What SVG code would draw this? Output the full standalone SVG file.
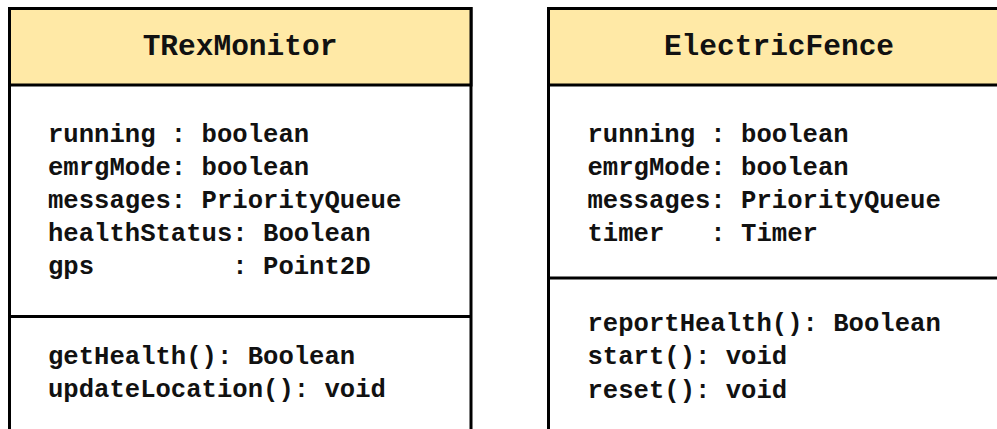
<svg xmlns="http://www.w3.org/2000/svg" width="997" height="429" viewBox="0 0 997 429">
<style>
.box{fill:#ffffff;stroke:#000000;stroke-width:3}
.hdr{fill:#ffe9a6;stroke:#000000;stroke-width:3}
.div{stroke:#000000;stroke-width:3}
.title{font-family:"Nimbus Mono PS","Courier New","Liberation Mono",monospace;font-weight:bold;font-size:29.5px;fill:#111111;text-anchor:middle}
.mem{font-family:"Nimbus Mono PS","Courier New","Liberation Mono",monospace;font-weight:bold;font-size:25.6px;fill:#111111;white-space:pre}
</style>
<rect width="997" height="429" fill="#ffffff"/>
<g id="TRexMonitor">
<rect class="box" x="9.5" y="8.5" width="461.5" height="440"/>
<rect class="hdr" x="9.5" y="8.5" width="461.5" height="76.5"/>
<line class="div" x1="9.5" y1="316.5" x2="471" y2="316.5"/>
<text class="title" x="240" y="55">TRexMonitor</text>
<text class="mem" x="48" y="141.5" xml:space="preserve">running : boolean</text>
<text class="mem" x="48" y="174.8" xml:space="preserve">emrgMode: boolean</text>
<text class="mem" x="48" y="208" xml:space="preserve">messages: PriorityQueue</text>
<text class="mem" x="48" y="241" xml:space="preserve">healthStatus: Boolean</text>
<text class="mem" x="48" y="274" xml:space="preserve">gps         : Point2D</text>
<text class="mem" x="48" y="363.5" xml:space="preserve">getHealth(): Boolean</text>
<text class="mem" x="48" y="396.8" xml:space="preserve">updateLocation(): void</text>
</g>
<g id="ElectricFence">
<rect class="box" x="548.5" y="8.5" width="461.5" height="440"/>
<rect class="hdr" x="548.5" y="8.5" width="461.5" height="76.5"/>
<line class="div" x1="548.5" y1="278" x2="1010" y2="278"/>
<text class="title" x="779" y="55">ElectricFence</text>
<text class="mem" x="587.5" y="141.5" xml:space="preserve">running : boolean</text>
<text class="mem" x="587.5" y="174.8" xml:space="preserve">emrgMode: boolean</text>
<text class="mem" x="587.5" y="208" xml:space="preserve">messages: PriorityQueue</text>
<text class="mem" x="587.5" y="241" xml:space="preserve">timer   : Timer</text>
<text class="mem" x="587.5" y="331" xml:space="preserve">reportHealth(): Boolean</text>
<text class="mem" x="587.5" y="364.3" xml:space="preserve">start(): void</text>
<text class="mem" x="587.5" y="397.5" xml:space="preserve">reset(): void</text>
</g>
<g id="connectors"></g>
</svg>
